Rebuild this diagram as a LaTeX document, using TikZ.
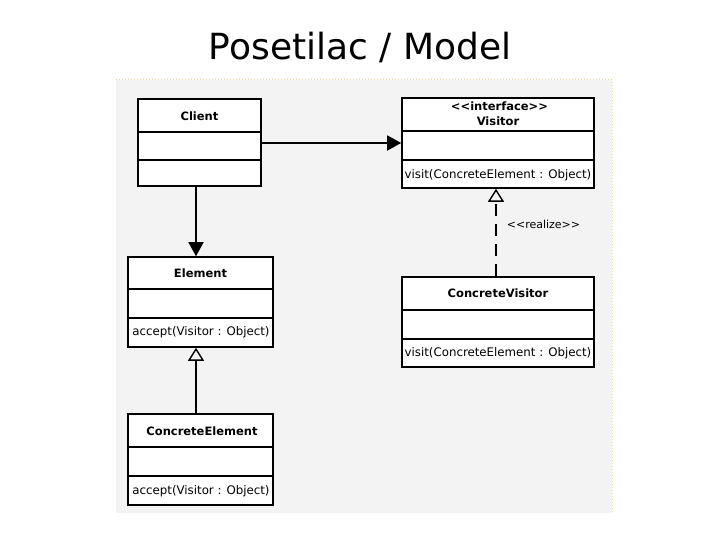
\documentclass[tikz,border=0pt]{standalone}
\usepackage{fontspec}
\setmainfont{DejaVu Sans}
\usetikzlibrary{arrows.meta,fit}
\definecolor{bgchk}{HTML}{F3F3F3}
\definecolor{dotline}{HTML}{E8D8A0}
\tikzset{
  classbox/.style={draw, line width=1.6pt, fill=white, inner sep=0pt},
  sep/.style={line width=1.6pt},
  cname/.style={font=\fontsize{11.5}{13}\selectfont\bfseries, inner sep=0pt},
  cop/.style={font=\fontsize{11.8}{13}\selectfont, inner sep=0pt},
  link/.style={line width=1.6pt},
  assoc/.style={link, -{Triangle[length=14pt,width=15pt]}},
  inherit/.style={link, -{Triangle[open,length=13pt,width=16pt,line width=1.4pt]}},
  realize/.style={inherit, dash pattern=on 12pt off 8pt},
}
\newcommand\umlclass[7]{%
  \node[classbox, fit={(#2,#3) (#4,#5)}] (#1) {};
  \draw[sep] (#1.west |- 0,#6) -- (#1.east |- 0,#6);
  \draw[sep] (#1.west |- 0,#7) -- (#1.east |- 0,#7);
}
\begin{document}
\begin{tikzpicture}[x=1pt,y=-1pt]
\useasboundingbox (0,0) rectangle (720,540);
% background of embedded image
\fill[bgchk] (116,80) rectangle (612,513);
\draw[dotline, line width=1pt, dotted] (116,80) -- (612,80) -- (612,513);
% title
\node[font=\fontsize{36}{40}\selectfont, inner sep=0pt] (title) at (360,47) {Posetilac / Model};
% classes
\umlclass{client}{138}{99}{261}{186}{132}{160}
\node[cname] (clientn) at (199.5,116) {Client};
\umlclass{visitor}{402}{98}{594}{188}{131}{160}
\node[cname, font=\fontsize{11.5}{13}\selectfont\bfseries] (visitori) at (499.5,106) {{<}{<}interface{>}{>}};
\node[cname] (visitorn) at (498,121) {Visitor};
\node[cop] (visitorop) at (498,175) {visit(ConcreteElement : Object)};
\umlclass{element}{128}{257}{273}{347}{289}{318}
\node[cname] (elementn) at (200.5,273) {Element};
\node[cop] (elementop) at (201,332) {accept(Visitor : Object)};
\umlclass{cvisitor}{402}{277}{594}{367}{310}{339}
\node[cname] (cvisitorn) at (498,293.5) {ConcreteVisitor};
\node[cop] (cvisitorop) at (498,353) {visit(ConcreteElement : Object)};
\umlclass{celement}{128}{414}{273}{505}{447}{476}
\node[cname] (celementn) at (202,431) {ConcreteElement};
\node[cop] (celementop) at (201,491) {accept(Visitor : Object)};
% connectors
\draw[assoc] (client.east |- 0,143) -- (visitor.west |- 0,143);
\draw[assoc] (client.south -| 196,0) -- (element.north -| 196,0);
\draw[inherit] (celement.north -| 196,0) -- (element.south -| 196,0);
\draw[realize] (cvisitor.north -| 496,0) -- (visitor.south -| 496,0);
\node[cop, font=\fontsize{11}{12}\selectfont] (realizel) at (543.5,224) {{<}{<}realize{>}{>}};
\end{tikzpicture}
\end{document}
